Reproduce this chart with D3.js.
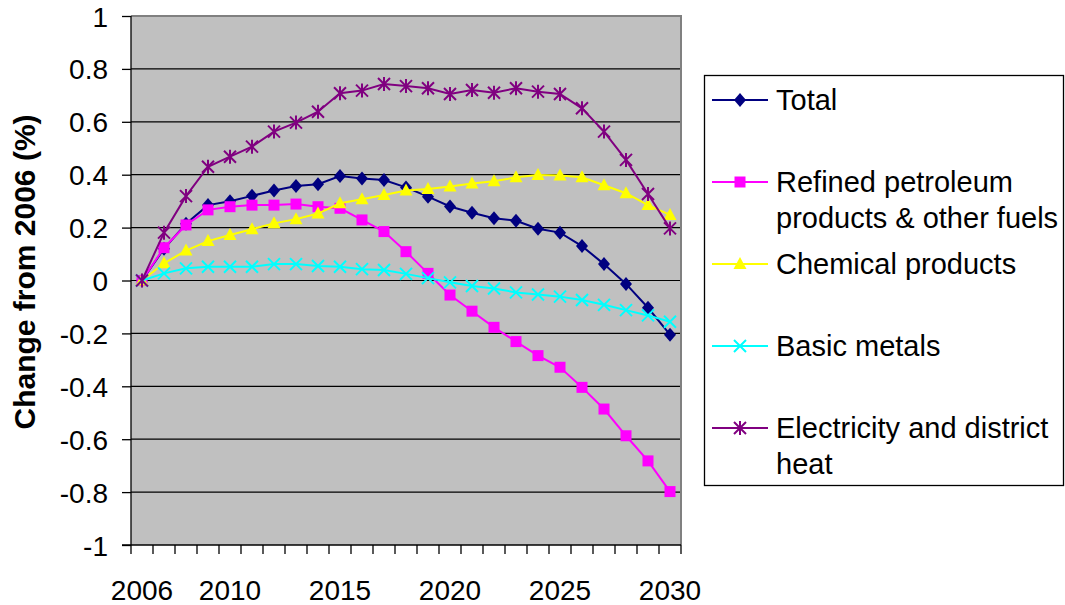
<!DOCTYPE html>
<meta charset="utf-8">
<script src="https://d3js.org/d3.v7.min.js"></script>
<style>
  body { margin: 0; background: #fff; }
  text { font-family: "Liberation Sans", Arial, sans-serif; fill: #000; }
</style>
<div id="chart"></div>
<script>

// years on the category axis
var years = [2006, 2007, 2008, 2009, 2010, 2011, 2012, 2013, 2014, 2015, 2016, 2017, 2018,
             2019, 2020, 2021, 2022, 2023, 2024, 2025, 2026, 2027, 2028, 2029, 2030];
var yearLabels = [2006, 2010, 2015, 2020, 2025, 2030];
var yTicks = [1, 0.8, 0.6, 0.4, 0.2, 0, -0.2, -0.4, -0.6, -0.8, -1];

// series values (change from 2006, %)
var total = [0, 0.12, 0.215, 0.285, 0.30, 0.32, 0.34, 0.357, 0.364, 0.395, 0.386, 0.38, 0.352,
             0.317, 0.28, 0.256, 0.235, 0.226, 0.196, 0.181, 0.13, 0.062, -0.013, -0.103, -0.205];
var refined = [0, 0.124, 0.21, 0.267, 0.279, 0.285, 0.285, 0.289, 0.279, 0.273, 0.229, 0.185, 0.109,
               0.027, -0.055, -0.116, -0.177, -0.231, -0.284, -0.328, -0.404, -0.486, -0.587, -0.682, -0.798];
var chemical = [0, 0.065, 0.113, 0.149, 0.172, 0.194, 0.216, 0.232, 0.253, 0.292, 0.307, 0.323, 0.34,
                0.346, 0.355, 0.367, 0.375, 0.39, 0.399, 0.397, 0.39, 0.36, 0.33, 0.285, 0.248];
var metals = [0, 0.027, 0.046, 0.052, 0.052, 0.052, 0.062, 0.062, 0.055, 0.052, 0.043, 0.04, 0.025,
              0.009, -0.007, -0.021, -0.03, -0.045, -0.053, -0.061, -0.074, -0.092, -0.112, -0.132, -0.156];
var electricity = [0, 0.181, 0.319, 0.43, 0.468, 0.506, 0.563, 0.597, 0.638, 0.708, 0.718, 0.743, 0.735,
                   0.727, 0.705, 0.72, 0.71, 0.727, 0.714, 0.705, 0.651, 0.563, 0.456, 0.327, 0.197];

var seriesNames = [["Total"], ["Refined petroleum", "products & other fuels"], ["Chemical products"],
                   ["Basic metals"], ["Electricity and district", "heat"]];
var seriesValues = [total, refined, chemical, metals, electricity];
var seriesColors = ["#000080", "#FF00FF", "#FFFF00", "#00FFFF", "#800080"];
var seriesMarkers = ["diamond", "square", "triangle", "cross", "star"];

var width = 1065, height = 605;
var plot = {left: 131, top: 16, right: 681, bottom: 545};

var svg = d3.select("#chart").append("svg")
    .attr("width", width)
    .attr("height", height);

var x = d3.scaleBand().domain(years).range([plot.left, plot.right]).padding(0);
var y = d3.scaleLinear().domain([-1, 1]).range([plot.bottom, plot.top]);
var cx = function(yr) { return x(yr) + x.bandwidth() / 2; };

// marker shapes (filled or stroked)
var markerPath = {
  diamond: "M0,-7L6,0L0,7L-6,0Z",
  square: "M-5.5,-5.5H5.5V5.5H-5.5Z",
  triangle: "M0,-7L6.5,5L-6.5,5Z",
  cross: "M-6,-6L6,6M6,-6L-6,6",
  star: "M-6,-6L6,6M6,-6L-6,6M0,-7V7"
};
function drawMarker(g, type, color) {
  var p = g.append("path").attr("d", markerPath[type]);
  if (type == "cross" || type == "star") {
    p.attr("fill", "none").attr("stroke", color).attr("stroke-width", 2);
  } else {
    p.attr("fill", color).attr("stroke", "none");
  }
}

// plot background
svg.append("rect")
    .attr("x", plot.left).attr("y", plot.top)
    .attr("width", plot.right - plot.left).attr("height", plot.bottom - plot.top)
    .attr("fill", "#C0C0C0");

// gridlines
svg.selectAll(".grid")
  .data(yTicks.filter(function(d){ return d > -1 && d < 1; }))
  .enter().append("line")
    .attr("x1", plot.left).attr("x2", plot.right)
    .attr("y1", function(d){ return y(d); }).attr("y2", function(d){ return y(d); })
    .attr("stroke", "#000").attr("stroke-width", 1.2);

// gray frame top and right
svg.append("path")
    .attr("d", "M" + plot.left + "," + plot.top + "H" + plot.right + "V" + plot.bottom)
    .attr("fill", "none").attr("stroke", "#808080").attr("stroke-width", 2);

// y axis
var yAxis = d3.axisLeft(y).tickValues(yTicks).tickSize(9).tickPadding(14)
    .tickFormat(function(d){ return String(+d.toFixed(1)); });
var gy = svg.append("g").attr("transform", "translate(" + plot.left + ",0)").call(yAxis);
gy.select(".domain").remove();
gy.append("line").attr("x1", 0).attr("x2", 0).attr("y1", plot.top).attr("y2", plot.bottom)
  .attr("stroke", "#000").attr("stroke-width", 1.3);
gy.selectAll(".tick line").attr("stroke", "#000").attr("stroke-width", 1.3);
gy.selectAll(".tick text").style("font-size", "28px").attr("dy", "0.36em");

// x axis: ticks at category boundaries
var bounds = years.map(function(d){ return x(d); }).concat([plot.right]);
svg.append("line")
    .attr("x1", plot.left - 9).attr("x2", plot.right)
    .attr("y1", plot.bottom).attr("y2", plot.bottom)
    .attr("stroke", "#000").attr("stroke-width", 1.3);
svg.selectAll(".xtick")
  .data(bounds)
  .enter().append("line")
    .attr("x1", function(d){ return d; }).attr("x2", function(d){ return d; })
    .attr("y1", plot.bottom).attr("y2", plot.bottom + 9)
    .attr("stroke", "#000").attr("stroke-width", 1.3);
svg.selectAll(".xlabel")
  .data(yearLabels)
  .enter().append("text")
    .attr("x", function(d){ return cx(d); })
    .attr("y", 600)
    .attr("text-anchor", "middle")
    .style("font-size", "28px")
    .text(function(d){ return d; });

// y axis title
svg.append("text")
    .attr("transform", "translate(35,272) rotate(-90)")
    .attr("text-anchor", "middle")
    .style("font-size", "30px")
    .style("font-weight", "bold")
    .text("Change from 2006 (%)");

// series lines and markers
var line = d3.line()
    .x(function(d, i){ return cx(years[i]); })
    .y(function(d){ return y(d); });

seriesValues.forEach(function(vals, s) {
  svg.append("path")
      .datum(vals)
      .attr("d", line)
      .attr("fill", "none")
      .attr("stroke", seriesColors[s])
      .attr("stroke-width", 2);
  vals.forEach(function(v, i) {
    var g = svg.append("g").attr("transform", "translate(" + cx(years[i]) + "," + y(v) + ")");
    drawMarker(g, seriesMarkers[s], seriesColors[s]);
  });
});

// legend
var legend = svg.append("g");
legend.append("rect")
    .attr("x", 704.5).attr("y", 75.5).attr("width", 359).attr("height", 410)
    .attr("fill", "#fff").attr("stroke", "#000").attr("stroke-width", 1.3);

seriesNames.forEach(function(name, s) {
  var ly = 100 + s * 82;
  legend.append("line")
      .attr("x1", 712).attr("x2", 768).attr("y1", ly).attr("y2", ly)
      .attr("stroke", seriesColors[s]).attr("stroke-width", 2);
  var g = legend.append("g").attr("transform", "translate(740," + ly + ")");
  drawMarker(g, seriesMarkers[s], seriesColors[s]);
  name.forEach(function(t, k) {
    legend.append("text")
        .attr("x", 776).attr("y", ly + 10 + k * 36)
        .style("font-size", "29px")
        .text(t);
  });
});

</script>
